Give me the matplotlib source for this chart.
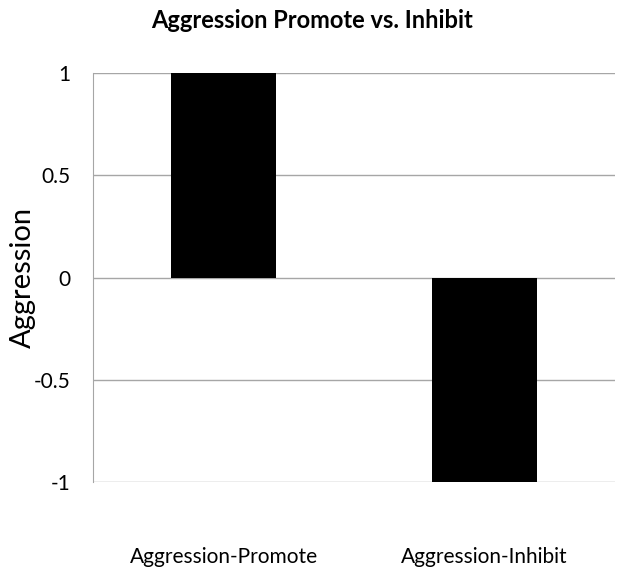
import matplotlib
matplotlib.use("Agg")
import matplotlib.pyplot as plt

categories = ["Aggression-Promote", "Aggression-Inhibit"]
values = [1, -1]
yticks = [-1, -0.5, 0, 0.5, 1]
ytick_labels = ["-1", "-0.5", "0", "0.5", "1"]

plt.rcParams['font.family'] = ['Lato', 'DejaVu Sans']

fig = plt.figure(figsize=(6.24, 5.76), dpi=100)
ax = fig.add_axes([0.149, 0.163, 0.837, 0.710])

x = range(len(categories))
ax.bar(x, values, width=0.4, color="black", zorder=3)

ax.set_xlim(-0.5, len(categories) - 0.5)
ax.set_ylim(-1, 1)
ax.set_yticks(yticks)
ax.set_yticklabels(ytick_labels, fontsize=15)
ax.set_xticks(list(x))
ax.set_xticklabels(categories, fontsize=15)
ax.tick_params(axis="both", length=0)
ax.tick_params(axis="x", pad=47)
ax.tick_params(axis="y", pad=16)

ax.grid(axis="y", color="#a6a6a6", linewidth=1, zorder=0)
for side in ["top", "right", "bottom"]:
    ax.spines[side].set_visible(False)
ax.spines["left"].set_color("#a6a6a6")

ax.set_ylabel("Aggression", fontsize=21)
ax.yaxis.set_label_coords(-0.11, 0.5)
fig.suptitle("Aggression Promote vs. Inhibit", fontsize=17, fontweight="bold", y=0.985)

fig.savefig("out.png", dpi=100)
